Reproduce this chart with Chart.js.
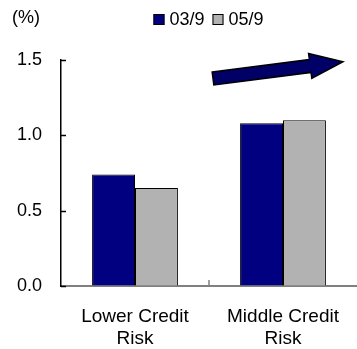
<!DOCTYPE html>
<html>
<head>
<meta charset="utf-8">
<script src="https://cdn.jsdelivr.net/npm/chart.js@4.4.0/dist/chart.umd.min.js"></script>
<style>
  html, body { margin: 0; padding: 0; background: #fff; }
  #wrap { width: 357px; height: 349px; }
</style>
</head>
<body>
<div id="wrap"><canvas id="myChart" width="357" height="349"></canvas></div>
<script>
const categories = [['Lower Credit', 'Risk'], ['Middle Credit', 'Risk']];
const seriesNames = ['03/9', '05/9'];
const values0309 = [0.74, 1.08];
const values0509 = [0.65, 1.10];
const yTicks = [0, 0.5, 1.0, 1.5];
const unitLabel = '(%)';

const seriesColors = ['#000080', '#b2b2b2'];
const fontFamily = "'Liberation Sans', Arial, sans-serif";

// unit text, legend, inward tick marks and the trend arrow
const extras = {
  id: 'extras',
  afterDraw(chart) {
    const ctx = chart.ctx;
    const area = chart.chartArea;
    const y = chart.scales.y;
    const x = chart.scales.x;
    ctx.save();

    // (%) in the top left corner
    ctx.fillStyle = '#000';
    ctx.font = '18px ' + fontFamily;
    ctx.textBaseline = 'middle';
    ctx.textAlign = 'left';
    ctx.fillText(unitLabel, 12, 18);

    // legend centred over the plot
    const box = 11, gap = 5, itemGap = 8;
    ctx.font = '18px ' + fontFamily;
    const items = chart.data.datasets.map(ds => ({
      text: ds.label, color: ds.backgroundColor, w: box + gap + ctx.measureText(ds.label).width
    }));
    let total = items.reduce((s, it) => s + it.w, 0) + itemGap * (items.length - 1);
    let lx = 208.5 - total / 2;
    const ly = 19.5;
    items.forEach(it => {
      ctx.fillStyle = it.color;
      ctx.fillRect(lx, ly - box / 2, box, box);
      ctx.strokeStyle = '#000';
      ctx.lineWidth = 1;
      ctx.strokeRect(lx + 0.5, ly - box / 2 + 0.5, box - 1, box - 1);
      ctx.fillStyle = '#000';
      ctx.fillText(it.text, lx + box + gap, ly + 1);
      lx += it.w + itemGap;
    });

    // y ticks point into the plot
    ctx.strokeStyle = '#000';
    ctx.lineWidth = 1.5;
    yTicks.forEach(v => {
      const py = Math.round(y.getPixelForValue(v)) + 0.5;
      ctx.beginPath();
      ctx.moveTo(area.left, py);
      ctx.lineTo(area.left + 5, py);
      ctx.stroke();
    });

    // tick between the two categories
    ctx.strokeStyle = '#808080';
    ctx.lineWidth = 1.5;
    const mid = (x.getPixelForValue(0) + x.getPixelForValue(1)) / 2;
    ctx.beginPath();
    ctx.moveTo(mid, area.bottom);
    ctx.lineTo(mid, area.bottom - 6);
    ctx.stroke();

    // upward arrow across the top right
    ctx.translate(213, 78.5);
    ctx.rotate(Math.atan2(-16.8, 130));
    const len = 131, shaft = 6.5, headLen = 33, head = 12.5;
    ctx.beginPath();
    ctx.moveTo(0, -shaft);
    ctx.lineTo(len - headLen, -shaft);
    ctx.lineTo(len - headLen, -head);
    ctx.lineTo(len, 0);
    ctx.lineTo(len - headLen, head);
    ctx.lineTo(len - headLen, shaft);
    ctx.lineTo(0, shaft);
    ctx.closePath();
    ctx.fillStyle = '#000066';
    ctx.fill();
    ctx.strokeStyle = '#000';
    ctx.lineWidth = 1.5;
    ctx.stroke();

    ctx.restore();
  }
};

const ctx = document.getElementById('myChart').getContext('2d');
const myChart = new Chart(ctx, {
  type: 'bar',
  data: {
    labels: categories,
    datasets: [{
      label: seriesNames[0],
      data: values0309,
      backgroundColor: seriesColors[0],
      borderColor: '#000',
      borderWidth: 1
    }, {
      label: seriesNames[1],
      data: values0509,
      backgroundColor: seriesColors[1],
      borderColor: '#000',
      borderWidth: 1
    }]
  },
  options: {
    responsive: false,
    animation: false,
    devicePixelRatio: 1,
    layout: { padding: { top: 60, left: 0, right: -2, bottom: 0 } },
    plugins: {
      legend: { display: false },
      tooltip: { enabled: false }
    },
    datasets: {
      bar: { categoryPercentage: 0.58, barPercentage: 1.0 }
    },
    scales: {
      x: {
        grid: { display: false, drawTicks: false },
        border: { display: true, color: '#808080', width: 2 },
        ticks: {
          color: '#000',
          padding: 20,
          maxRotation: 0,
          font: { family: fontFamily, size: 19, lineHeight: '22px' }
        },
        afterFit(scale) {
          scale.height = 63;
          scale.paddingLeft = 0;
          scale.paddingRight = 0;
        }
      },
      y: {
        min: 0,
        max: 1.5,
        grid: { drawOnChartArea: false, drawTicks: false },
        border: { display: true, color: '#000', width: 1.5 },
        ticks: {
          stepSize: 0.5,
          color: '#000',
          padding: 19,
          font: { family: fontFamily, size: 18 },
          callback: v => v.toFixed(1)
        },
        afterFit(scale) { scale.width = 61; }
      }
    }
  },
  plugins: [extras]
});
</script>
</body>
</html>
